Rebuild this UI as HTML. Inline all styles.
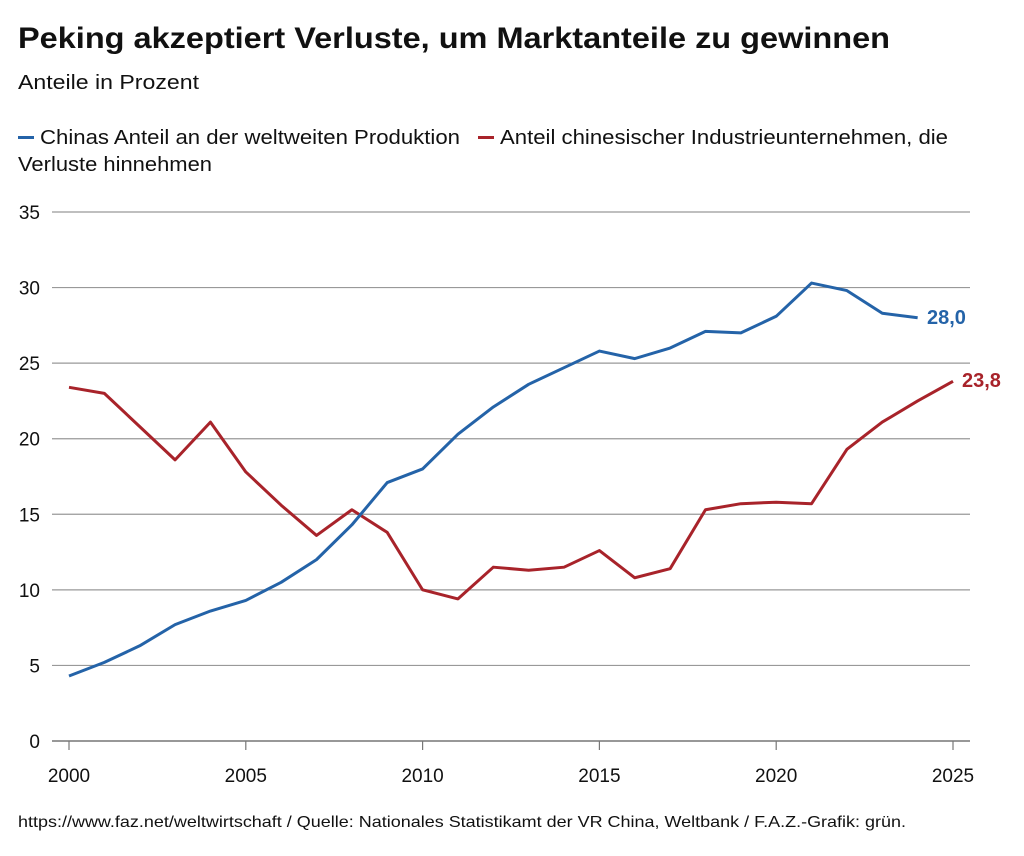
<!DOCTYPE html>
<html><head><meta charset="utf-8"><style>
body{margin:0;background:#fff}
svg text{font-family:"Liberation Sans",sans-serif;fill:#111}
</style></head><body>
<svg id="s" width="1024" height="851" xmlns="http://www.w3.org/2000/svg">
<text x="18" y="48" font-size="30" font-weight="bold" textLength="872" lengthAdjust="spacingAndGlyphs">Peking akzeptiert Verluste, um Marktanteile zu gewinnen</text>
<text x="18" y="89" font-size="20" textLength="181" lengthAdjust="spacingAndGlyphs">Anteile in Prozent</text>
<rect x="18" y="136" width="16" height="3" fill="#2463a8"/>
<text x="40" y="144" font-size="20" textLength="420" lengthAdjust="spacingAndGlyphs">Chinas Anteil an der weltweiten Produktion</text>
<rect x="478" y="136" width="16" height="3" fill="#a8232a"/>
<text x="500" y="144" font-size="20" textLength="448" lengthAdjust="spacingAndGlyphs">Anteil chinesischer Industrieunternehmen, die</text>
<text x="18" y="171" font-size="20" textLength="194" lengthAdjust="spacingAndGlyphs">Verluste hinnehmen</text>
<text x="18" y="827" font-size="16" textLength="888" lengthAdjust="spacingAndGlyphs">https://www.faz.net/weltwirtschaft / Quelle: Nationales Statistikamt der VR China, Weltbank / F.A.Z.-Grafik: grün.</text>
<g id="g"></g>
</svg>
<script>
var g=document.getElementById('g'),h='';
function Y(v){return 741-v*(529/35)}
function X(y){return 69+(y-2000)*35.36}
for(var v=0;v<=35;v+=5){var y=Y(v);h+='<line x1="52" x2="970" y1="'+y+'" y2="'+y+'" stroke="'+(v?'#999':'#777')+'" stroke-width="'+(v?1.2:1.5)+'"/>';
h+='<text x="40" y="'+(y+7)+'" font-size="19" text-anchor="end">'+v+'</text>';}
for(var yr=2000;yr<=2025;yr+=5){var x=X(yr);h+='<line x1="'+x+'" x2="'+x+'" y1="741" y2="750" stroke="#777" stroke-width="1.2"/>';
h+='<text x="'+x+'" y="782" font-size="19" text-anchor="middle">'+yr+'</text>';}
var b=[4.3,5.2,6.3,7.7,8.6,9.3,10.5,12.0,14.3,17.1,18.0,20.3,22.1,23.6,24.7,25.8,25.3,26.0,27.1,27.0,28.1,30.3,29.8,28.3,28.0];
var r=[23.4,23.0,20.8,18.6,21.1,17.8,15.6,13.6,15.3,13.8,10.0,9.4,11.5,11.3,11.5,12.6,10.8,11.4,15.3,15.7,15.8,15.7,19.3,21.1,22.5,23.8];
function P(a,c){return '<polyline fill="none" stroke="'+c+'" stroke-width="3" stroke-linejoin="round" points="'+a.map(function(v,i){return X(2000+i)+','+Y(v)}).join(' ')+'"/>'}
h+=P(r,'#a8232a')+P(b,'#2463a8');
h+='<text x="927" y="324" font-size="20" font-weight="bold" style="fill:#2463a8">28,0</text>';
h+='<text x="962" y="387" font-size="20" font-weight="bold" style="fill:#a8232a">23,8</text>';
g.innerHTML=h;
</script>
</body></html>
